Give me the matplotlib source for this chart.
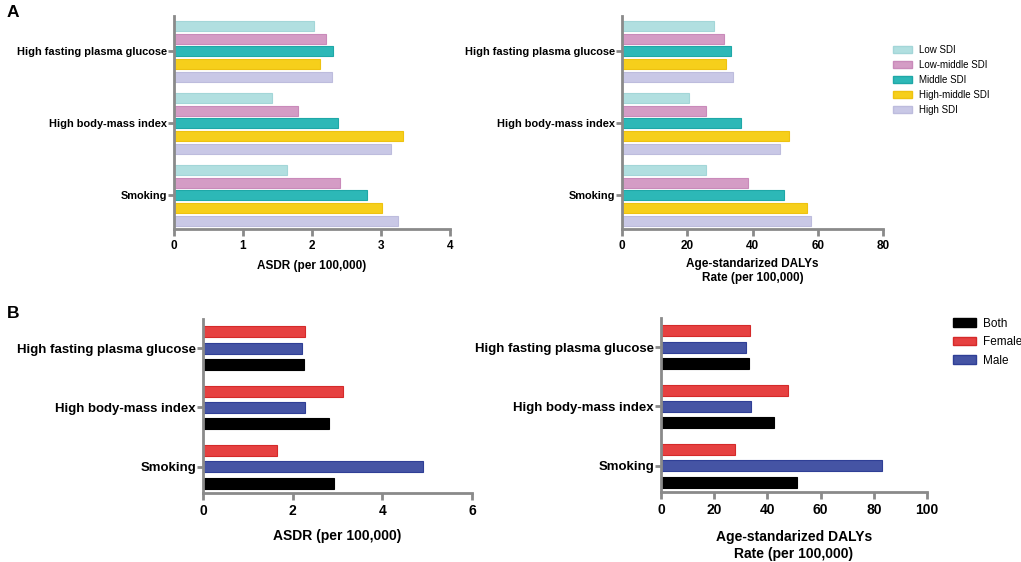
import numpy as np
import matplotlib
matplotlib.use("Agg")
import matplotlib.pyplot as plt
from matplotlib.patches import Patch

plt.rcParams['font.family'] = ['Liberation Sans', 'DejaVu Sans']

# data
risks = ["High fasting plasma glucose", "High body-mass index", "Smoking"]

sdi_groups = ["Low SDI", "Low-middle SDI", "Middle SDI", "High-middle SDI", "High SDI"]
asdr_sdi = {
    "Low SDI":         [2.03, 1.42, 1.64],
    "Low-middle SDI":  [2.21, 1.79, 2.40],
    "Middle SDI":      [2.30, 2.38, 2.79],
    "High-middle SDI": [2.11, 3.32, 3.01],
    "High SDI":        [2.29, 3.14, 3.24],
}
daly_sdi = {
    "Low SDI":         [28.1, 20.6, 25.9],
    "Low-middle SDI":  [31.2, 25.9, 38.7],
    "Middle SDI":      [33.5, 36.5, 49.6],
    "High-middle SDI": [31.8, 51.1, 56.7],
    "High SDI":        [34.0, 48.5, 57.9],
}

sexes = ["Female", "Male", "Both"]
asdr_sex = {
    "Female": [2.27, 3.13, 1.64],
    "Male":   [2.21, 2.27, 4.90],
    "Both":   [2.25, 2.82, 2.92],
}
daly_sex = {
    "Female": [33.5, 47.6, 27.9],
    "Male":   [31.8, 33.9, 83.0],
    "Both":   [32.9, 42.3, 51.3],
}

sdi_colors = {"Low SDI": "#b1dfe0", "Low-middle SDI": "#d49cc5", "Middle SDI": "#2db8b7",
              "High-middle SDI": "#f6cf1b", "High SDI": "#c9c8e6"}
sdi_edges = {"Low SDI": "#a3d6d8", "Low-middle SDI": "#c98aba", "Middle SDI": "#1fa8a7",
             "High-middle SDI": "#eec210", "High SDI": "#bdbcdd"}
sex_colors = {"Female": "#e64141", "Male": "#4554a4", "Both": "#000000"}
sex_edges = {"Female": "#d42a2a", "Male": "#2f3f96", "Both": "#000000"}

W, H = 1021, 562
fig = plt.figure(figsize=(W / 100, H / 100), dpi=100)


def rect(x0, x1, ytop, ybot):
    return [x0 / W, 1 - ybot / H, (x1 - x0) / W, (ybot - ytop) / H]


def style(ax, xmax, step, ylim, fs_y, fs_x):
    gray = "#8a8a8a"
    for s in ["top", "right"]:
        ax.spines[s].set_visible(False)
    for s in ["left", "bottom"]:
        ax.spines[s].set_color(gray)
        ax.spines[s].set_linewidth(2)
    ax.spines["bottom"].set_bounds(0, xmax)
    ax.set_xlim(0, xmax)
    ax.set_xticks(np.arange(0, xmax + step / 2, step))
    ax.set_ylim(*ylim)
    ax.set_yticks(range(len(risks)))
    ax.set_yticklabels(risks, fontsize=fs_y, fontweight="bold")
    ax.tick_params(axis="x", colors=gray, width=2, length=5, labelcolor="black",
                   labelsize=fs_x, pad=3)
    ax.tick_params(axis="y", colors=gray, width=2, length=4, labelcolor="black", pad=1)
    for lab in ax.get_xticklabels():
        lab.set_fontweight("bold")


def bars(ax, groups, data, colors, edges, spacing, height):
    n = len(groups)
    y = np.arange(len(risks))
    for i, g in enumerate(groups):
        off = (i - (n - 1) / 2) * spacing
        ax.barh(y + off, data[g], height=height, color=colors[g], edgecolor=edges[g],
                linewidth=0.8, zorder=2)


# Panel A
axA1 = fig.add_axes(rect(174, 450, 16, 229))
bars(axA1, sdi_groups, asdr_sdi, sdi_colors, sdi_edges, 0.176, 0.139)
style(axA1, 4, 1, (2.47, -0.49), 7.9, 8.5)
axA1.set_xlabel("ASDR (per 100,000)", fontsize=8.5, fontweight="bold", labelpad=6)

axA2 = fig.add_axes(rect(622, 883, 16, 229))
bars(axA2, sdi_groups, daly_sdi, sdi_colors, sdi_edges, 0.176, 0.139)
style(axA2, 80, 20, (2.47, -0.49), 7.9, 8.5)
axA2.set_xlabel("Age-standarized DALYs\nRate (per 100,000)", fontsize=8.5, fontweight="bold",
                labelpad=4, linespacing=1.25)

handles = [Patch(facecolor=sdi_colors[g], edgecolor=sdi_edges[g], label=g) for g in sdi_groups]
fig.legend(handles=handles, loc="upper left", bbox_to_anchor=(889 / W, 1 - 41 / H),
           frameon=False, fontsize=7, handlelength=2.0, handleheight=0.7,
           labelspacing=0.52, handletextpad=0.7, borderaxespad=0)

# Panel B
axB1 = fig.add_axes(rect(203, 472, 319, 493))
bars(axB1, sexes, asdr_sex, sex_colors, sex_edges, 0.274, 0.185)
style(axB1, 6, 2, (2.44, -0.49), 9.5, 10)
axB1.set_xlabel("ASDR (per 100,000)", fontsize=10, fontweight="bold", labelpad=8)

axB2 = fig.add_axes(rect(661, 927, 318, 492))
bars(axB2, sexes, daly_sex, sex_colors, sex_edges, 0.274, 0.185)
style(axB2, 100, 20, (2.44, -0.49), 9.5, 10)
axB2.set_xlabel("Age-standarized DALYs\nRate (per 100,000)", fontsize=10, fontweight="bold",
                labelpad=9, linespacing=1.3)

order = ["Both", "Female", "Male"]
handles = [Patch(facecolor=sex_colors[g], edgecolor=sex_edges[g], label=g) for g in order]
fig.legend(handles=handles, loc="upper left", bbox_to_anchor=(948 / W, 1 - 313 / H),
           frameon=False, fontsize=8.5, handlelength=2.0, handleheight=0.7,
           labelspacing=0.55, handletextpad=0.6, borderaxespad=0)

fig.text(7 / W, 1 - 5 / H, "A", fontsize=12.5, fontweight="bold", va="top")
fig.text(7 / W, 1 - 306 / H, "B", fontsize=12.5, fontweight="bold", va="top")

fig.savefig("out.png", dpi=100)
